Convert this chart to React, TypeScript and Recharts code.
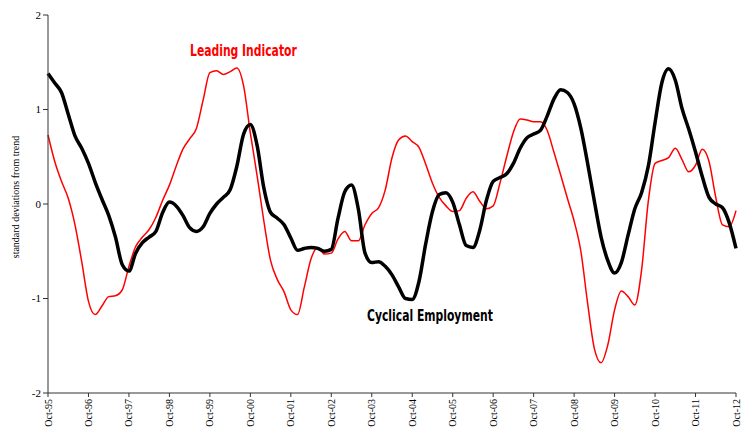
import { LineChart, Line, XAxis, YAxis } from 'recharts';

// bimonthly observations starting Oct-95
const cyclicalEmployment = [
  1.38, 1.28, 1.18, 0.95, 0.72, 0.59, 0.43, 0.23, 0.05, -0.12,
  -0.35, -0.64, -0.71, -0.52, -0.41, -0.35, -0.29, -0.09, 0.02, -0.02,
  -0.12, -0.25, -0.29, -0.24, -0.10, 0.0, 0.07, 0.15, 0.40, 0.74,
  0.84, 0.62, 0.17, -0.09, -0.15, -0.22, -0.36, -0.49, -0.47, -0.46,
  -0.47, -0.50, -0.48, -0.15, 0.13, 0.20, -0.05, -0.52, -0.62, -0.61,
  -0.66, -0.75, -0.88, -1.0, -1.01, -0.82, -0.42, -0.08, 0.10, 0.12,
  0.02, -0.22, -0.44, -0.46, -0.28, 0.04, 0.24, 0.28, 0.32, 0.43,
  0.59, 0.70, 0.74, 0.78, 0.93, 1.11, 1.21, 1.18, 1.06, 0.80,
  0.43, 0.03, -0.35, -0.60, -0.73, -0.62, -0.33, -0.05, 0.12, 0.40,
  0.86, 1.28, 1.43, 1.31, 1.01, 0.79, 0.55, 0.29, 0.07, 0.0,
  -0.04, -0.20, -0.47,
];

const leadingIndicator = [
  0.73, 0.45, 0.24, 0.06, -0.22, -0.61, -1.03, -1.17, -1.08, -0.98,
  -0.97, -0.91, -0.66, -0.45, -0.35, -0.27, -0.14, 0.04, 0.20, 0.40,
  0.58, 0.69, 0.80, 1.10, 1.39, 1.41, 1.37, 1.40, 1.44, 1.25,
  0.75, 0.30, -0.18, -0.60, -0.80, -0.93, -1.12, -1.17, -0.88, -0.58,
  -0.46, -0.53, -0.52, -0.37, -0.29, -0.39, -0.39, -0.22, -0.10, -0.04,
  0.15, 0.49, 0.68, 0.72, 0.66, 0.60, 0.42, 0.22, 0.07, -0.02,
  -0.08, -0.07, 0.06, 0.13, 0.03, -0.05, -0.02, 0.22, 0.50, 0.76,
  0.90, 0.89, 0.87, 0.87, 0.78, 0.55, 0.31, 0.06, -0.18, -0.50,
  -1.05, -1.53, -1.68, -1.49, -1.12, -0.92, -0.98, -1.07, -0.70, 0.03,
  0.43, 0.46, 0.49, 0.59, 0.47, 0.34, 0.41, 0.58, 0.45, 0.07,
  -0.22, -0.24, -0.07,
];

const yearLabels = [
  'Oct-95', 'Oct-96', 'Oct-97', 'Oct-98', 'Oct-99', 'Oct-00', 'Oct-01', 'Oct-02', 'Oct-03',
  'Oct-04', 'Oct-05', 'Oct-06', 'Oct-07', 'Oct-08', 'Oct-09', 'Oct-10', 'Oct-11', 'Oct-12',
];

const yTicks = [-2, -1, 0, 1, 2];

const data = cyclicalEmployment.map((v, i) => ({
  month: i * 2,
  employment: v,
  leading: leadingIndicator[i],
}));

const xTicks = yearLabels.map((_, i) => i * 12);

const serif = '"Liberation Serif", "Times New Roman", serif';
const condensed = '"DejaVu Sans Condensed", "DejaVu Sans", sans-serif';

const MonthTick = ({ x, y, payload }: any) => (
  <text
    x={0}
    y={0}
    transform={`translate(${x + 3.5},${y}) rotate(-90)`}
    textAnchor="end"
    fontFamily={serif}
    fontSize={10}
    fill="#000"
  >
    {yearLabels[payload.value / 12]}
  </text>
);

const noteStyle = {
  position: 'absolute' as const,
  fontFamily: condensed,
  fontWeight: 'bold' as const,
  fontSize: 15,
  whiteSpace: 'nowrap' as const,
  transform: 'scaleX(0.8)',
  transformOrigin: 'left top',
};

export default function App() {
  return (
    <div style={{ position: 'absolute', left: 0, top: 0, width: 753, height: 439, background: '#fff' }}>
      <LineChart
        width={753}
        height={439}
        data={data}
        margin={{ top: 15, right: 17, bottom: 0, left: 0 }}
      >
        <XAxis
          dataKey="month"
          type="number"
          domain={[0, 204]}
          ticks={xTicks}
          interval={0}
          height={46}
          tick={<MonthTick />}
          tickSize={4}
          stroke="#333"
          axisLine={{ stroke: '#333' }}
          tickLine={{ stroke: '#333' }}
        />
        <YAxis
          type="number"
          domain={[-2, 2]}
          ticks={yTicks}
          width={48}
          tickSize={5}
          stroke="#333"
          tick={{ fill: '#000', fontFamily: serif, fontSize: 11 }}
        />
        <Line
          type="monotone"
          dataKey="leading"
          stroke="#ff0000"
          strokeWidth={1.5}
          dot={false}
          isAnimationActive={false}
        />
        <Line
          type="monotone"
          dataKey="employment"
          stroke="#000"
          strokeWidth={3.5}
          dot={false}
          isAnimationActive={false}
        />
      </LineChart>

      {/* axis title */}
      <div
        style={{
          position: 'absolute',
          left: 15,
          top: 197,
          transform: 'translate(-50%, -50%) rotate(-90deg)',
          whiteSpace: 'nowrap',
          fontFamily: serif,
          fontSize: 10,
          color: '#000',
        }}
      >
        standard deviations from trend
      </div>

      {/* series annotations */}
      <div style={{ ...noteStyle, left: 190, top: 42, color: '#ff0000' }}>Leading Indicator</div>
      <div style={{ ...noteStyle, left: 367, top: 307, color: '#000' }}>Cyclical Employment</div>
    </div>
  );
}
